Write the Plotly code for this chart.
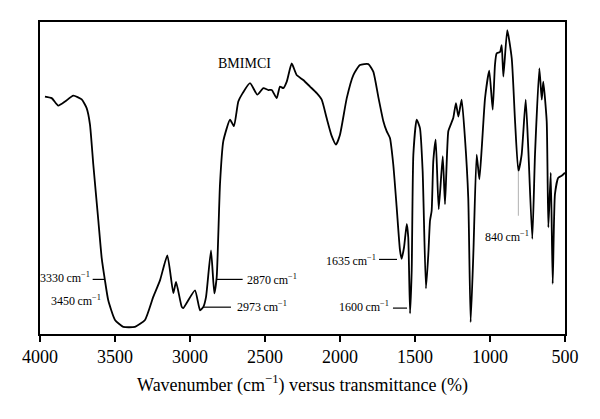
import plotly.graph_objects as go

# FTIR spectrum of BMIMCl
wavenumber = [3967, 3922, 3878, 3833, 3778, 3722, 3689, 3667, 3645, 3611,
              3589, 3567, 3545, 3500, 3445, 3367, 3300, 3245, 3200, 3151,
              3111, 3093, 3055, 3045, 2967, 2933, 2911, 2893, 2860, 2838,
              2822, 2800, 2778, 2733, 2707, 2678, 2649, 2600, 2551, 2511,
              2478, 2455, 2422, 2400, 2378, 2355, 2322, 2289, 2245, 2200,
              2155, 2122, 2089, 2055, 2027, 2000, 1955, 1911, 1867, 1811,
              1778, 1745, 1711, 1689, 1667, 1645, 1622, 1600, 1589, 1573,
              1555, 1545, 1533, 1522, 1511, 1489, 1467, 1449, 1427, 1411,
              1400, 1389, 1378, 1362, 1342, 1315, 1300, 1278, 1262, 1245,
              1227, 1211, 1189, 1167, 1145, 1129, 1111, 1089, 1071, 1055,
              1033, 1005, 982, 967, 956, 933, 922, 911, 885, 855,
              833, 811, 789, 762, 745, 718, 700, 671, 655, 645,
              622, 611, 595, 582, 567, 545, 522, 500]
transmittance = [76.1, 75.6, 73.2, 74.5, 76.4, 75.2, 72.4, 67.2, 54.5, 36.3,
                 24.5, 17.2, 10.8, 4.5, 2.3, 2.3, 4.5, 11.9, 17.2, 25.2,
                 13.1, 16.7, 8.7, 8.3, 14.0, 7.6, 8.7, 11.9, 26.8, 13.0,
                 18.2, 48.1, 61.8, 68.7, 66.6, 74.5, 77.2, 80.4, 76.7, 78.8,
                 78.2, 78.2, 75.6, 79.3, 78.8, 80.9, 86.7, 83.0, 81.4, 79.3,
                 77.2, 75.1, 69.2, 63.4, 60.7, 63.9, 75.6, 83.0, 86.2, 86.5,
                 84.1, 76.1, 68.2, 65.0, 62.8, 54.4, 40.5, 26.8, 24.1, 27.8,
                 35.3, 31.0, 6.6, 20.4, 57.5, 68.7, 66.0, 52.2, 14.6, 25.7,
                 36.3, 39.5, 55.4, 62.3, 40.0, 57.0, 41.6, 65.0, 67.1, 69.2,
                 74.0, 69.7, 75.1, 62.8, 43.7, 3.8, 25.7, 57.5, 49.6, 59.6,
                 75.6, 84.4, 71.9, 86.2, 89.9, 90.4, 92.6, 82.5, 97.4, 88.3,
                 68.2, 52.2, 57.5, 75.1, 59.6, 30.5, 57.5, 85.1, 75.1, 80.9,
                 68.2, 34.2, 51.7, 16.1, 44.8, 50.1, 50.7, 51.7]

x_ticks = [4000, 3500, 3000, 2500, 2000, 1500, 1000, 500]

SERIF = "Liberation Serif"

fig = go.Figure()
fig.add_trace(go.Scatter(
    x=wavenumber, y=transmittance, mode="lines",
    line=dict(color="black", width=1.8, shape="spline", smoothing=0.5),
    showlegend=False, hoverinfo="skip",
))

# peak labels: (text, x, y, anchor)
labels = [
    ("3330\u2009cm<sup>−1</sup>", 3653, 18.0, "right"),
    ("3450\u2009cm<sup>−1</sup>", 3580, 10.8, "right"),
    ("2870\u2009cm<sup>−1</sup>", 2635, 17.6, "left"),
    ("2973\u2009cm<sup>−1</sup>", 2700, 8.7, "left"),
    ("1635\u2009cm<sup>−1</sup>", 1745, 23.5, "right"),
    ("1600\u2009cm<sup>−1</sup>", 1658, 8.9, "right"),
    ("840\u2009cm<sup>−1</sup>", 725, 31.4, "right"),
]
for text, x, y, anchor in labels:
    fig.add_annotation(x=x, y=y, text=text, showarrow=False, xanchor=anchor,
                       yanchor="middle", font=dict(family=SERIF, size=12, color="black"))

# leader lines
leaders = [(3649, 3571, 17.5), (2827, 2649, 17.5), (2913, 2727, 8.6),
           (1740, 1620, 23.9), (1647, 1553, 8.3)]
for x0, x1, y in leaders:
    fig.add_shape(type="line", x0=x0, x1=x1, y0=y, y1=y, xref="x", yref="y",
                  line=dict(color="black", width=1.2))
fig.add_shape(type="line", x0=811, x1=811, y0=52.2, y1=37.9, xref="x", yref="y",
              line=dict(color="#b0b0b0", width=1))

fig.add_annotation(x=2640, y=86.6, text="BMIMCI", showarrow=False,
                   font=dict(family=SERIF, size=14, color="black"))

# page body adds ~8px offset, so margins are shifted to compensate
fig.update_layout(
    width=600, height=419,
    margin=dict(l=32, r=43, t=12, b=93),
    paper_bgcolor="white", plot_bgcolor="white",
    font=dict(family=SERIF, color="black"),
    xaxis=dict(
        range=[4000, 500], tickvals=x_ticks, ticks="outside", ticklen=6,
        tickwidth=1.5, tickcolor="black", showline=True, linecolor="black",
        linewidth=1.5, mirror=True, showgrid=False, zeroline=False,
        tickfont=dict(family=SERIF, size=18, color="black"),
        title=dict(text="Wavenumber (cm<sup>−1</sup>) versus transmittance (%)",
                   font=dict(family=SERIF, size=18, color="black"), standoff=12),
    ),
    yaxis=dict(
        range=[0, 100], showticklabels=False, ticks="", showline=True,
        linecolor="black", linewidth=1.5, mirror=True, showgrid=False,
        zeroline=False,
    ),
)

fig.write_html("out.html")
